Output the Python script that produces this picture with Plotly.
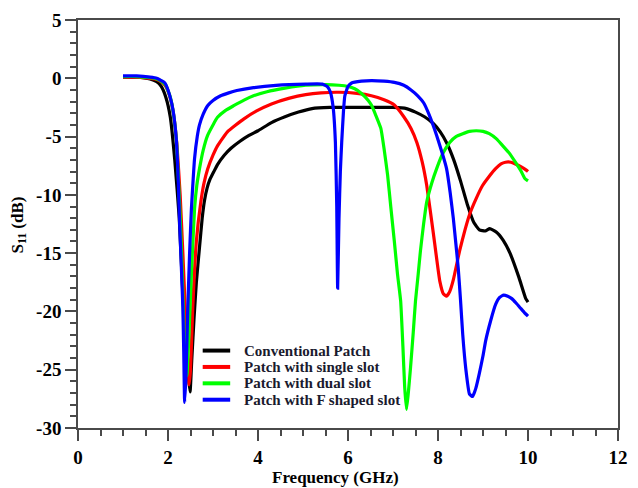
import plotly.graph_objects as go

# ---------------- data ----------------
freq_conv = [1.0, 1.3, 1.6, 1.75, 1.85, 1.95, 2.05, 2.15, 2.25, 2.33, 2.40, 2.45, 2.49, 2.53, 2.58,
             2.63, 2.70, 2.76, 2.81, 2.87, 2.93, 3.02, 3.10, 3.25, 3.40, 3.60, 3.80, 4.0, 4.3, 4.6,
             4.9, 5.2, 5.6, 6.0, 6.5, 7.0, 7.3, 7.5, 7.7, 7.9, 8.05, 8.2, 8.35, 8.5, 8.65, 8.8,
             8.92, 9.05, 9.15, 9.3, 9.45, 9.6, 9.8, 9.95, 10.0]
s11_conv = [0.1, 0.1, -0.05, -0.3, -0.7, -1.6, -3.3, -7.0, -12.0, -18.5, -23.0, -25.5, -26.9, -24.0, -20.5,
            -17.5, -14.5, -12.0, -10.5, -9.4, -8.7, -8.0, -7.4, -6.6, -6.0, -5.4, -4.9, -4.5, -3.8, -3.3,
            -2.9, -2.6, -2.5, -2.5, -2.5, -2.5, -2.6, -2.9, -3.3, -3.9, -4.6, -5.6, -7.0, -8.8, -10.8, -12.4,
            -13.0, -13.1, -12.9, -13.2, -13.9, -15.0, -17.1, -18.9, -19.2]

freq_single = [1.0, 1.3, 1.6, 1.75, 1.85, 1.95, 2.05, 2.12, 2.2, 2.27, 2.33, 2.38, 2.43, 2.47, 2.50,
               2.55, 2.63, 2.73, 2.80, 2.88, 3.0, 3.10, 3.32, 3.68, 3.97, 4.3, 4.7, 5.06, 5.4, 5.8,
               6.2, 6.52, 6.8, 7.03, 7.24, 7.4, 7.53, 7.65, 7.75, 7.90, 8.04, 8.12, 8.19, 8.26, 8.34,
               8.48, 8.60, 8.70, 8.85, 8.99, 9.14, 9.28, 9.4, 9.50, 9.62, 9.72, 9.85, 9.97, 10.0]
s11_single = [0.1, 0.1, 0.0, -0.1, -0.3, -0.7, -1.7, -3.0, -5.8, -10.0, -15.0, -19.5, -23.5, -26.3, -25.0,
              -19.7, -14.0, -10.6, -9.0, -7.8, -6.6, -5.8, -4.6, -3.5, -2.8, -2.2, -1.7, -1.4, -1.25, -1.2,
              -1.3, -1.5, -1.85, -2.3, -3.3, -4.3, -5.5, -7.2, -9.2, -13.4, -17.4, -18.5, -18.7, -18.3, -17.3,
              -14.8, -13.0, -11.7, -10.3, -9.2, -8.4, -7.75, -7.35, -7.2, -7.2, -7.35, -7.6, -7.9, -8.0]

freq_dual = [1.0, 1.3, 1.6, 1.75, 1.85, 1.95, 2.05, 2.12, 2.19, 2.26, 2.31, 2.35, 2.39, 2.42, 2.46,
             2.52, 2.59, 2.64, 2.70, 2.78, 2.88, 3.0, 3.10, 3.28, 3.46, 3.7, 3.9, 4.2, 4.6, 5.06,
             5.5, 5.8, 6.0, 6.15, 6.3, 6.45, 6.52, 6.62, 6.73, 6.8, 6.88, 6.95, 7.03, 7.10, 7.17,
             7.22, 7.26, 7.30, 7.34, 7.39, 7.45, 7.50, 7.56, 7.61, 7.68, 7.75, 7.86, 7.97, 8.1, 8.26,
             8.4, 8.55, 8.7, 8.85, 9.0, 9.14, 9.3, 9.43, 9.58, 9.72, 9.85, 9.93, 10.0]
s11_dual = [0.15, 0.15, 0.05, -0.05, -0.25, -0.6, -1.6, -3.0, -5.5, -11.0, -16.0, -21.0, -24.5, -25.5, -22.5,
            -16.8, -11.2, -9.2, -7.75, -6.2, -4.9, -4.0, -3.35, -2.75, -2.35, -1.85, -1.5, -1.15, -0.85, -0.6,
            -0.55, -0.6, -0.7, -0.9, -1.3, -1.9, -2.3, -3.2, -4.3, -6.0, -8.3, -11.0, -14.0, -16.8, -19.1,
            -23.0, -26.5, -28.4, -27.0, -24.8, -21.8, -19.1, -16.8, -14.8, -12.5, -10.6, -9.0, -7.75, -6.5, -5.5,
            -5.0, -4.75, -4.55, -4.5, -4.55, -4.75, -5.2, -5.75, -6.4, -7.2, -8.0, -8.6, -8.8]

freq_f = [1.0, 1.3, 1.6, 1.75, 1.85, 1.93, 2.0, 2.08, 2.14, 2.19, 2.23, 2.26, 2.30, 2.33, 2.35,
          2.37, 2.40, 2.44, 2.48, 2.52, 2.56, 2.59, 2.65, 2.70, 2.78, 2.88, 3.0, 3.17, 3.35, 3.53,
          3.9, 4.4, 5.06, 5.43, 5.55, 5.61, 5.67, 5.72, 5.75, 5.77, 5.80, 5.83, 5.86, 5.90, 5.93,
          6.0, 6.08, 6.3, 6.52, 6.8, 7.03, 7.24, 7.4, 7.55, 7.68, 7.8, 7.97, 8.1, 8.19, 8.27,
          8.34, 8.40, 8.45, 8.50, 8.55, 8.62, 8.70, 8.77, 8.84, 8.92, 9.0, 9.06, 9.17, 9.28, 9.37,
          9.46, 9.55, 9.64, 9.74, 9.83, 9.92, 10.0]
s11_f = [0.2, 0.2, 0.1, 0.0, -0.2, -0.4, -1.0, -2.1, -3.5, -5.5, -9.0, -12.6, -16.5, -19.7, -23.5,
         -27.8, -25.5, -19.7, -15.0, -11.2, -8.6, -6.9, -5.0, -4.0, -3.1, -2.35, -1.9, -1.5, -1.25, -1.05,
         -0.8, -0.6, -0.5, -0.5, -0.75, -1.2, -2.5, -5.5, -11.0, -18.0, -12.0, -8.0, -5.5, -2.8, -1.5,
         -0.7, -0.4, -0.25, -0.2, -0.25, -0.35, -0.6, -1.0, -1.5, -2.1, -3.1, -4.9, -6.5, -7.75, -9.8,
         -12.0, -14.3, -16.3, -19.0, -22.0, -25.0, -27.1, -27.3, -26.6, -25.3, -23.8, -22.5, -20.8, -19.4, -18.8,
         -18.6, -18.7, -18.9, -19.3, -19.7, -20.1, -20.4]

series_names = ["Conventional Patch", "Patch with single slot",
                "Patch with dual slot", "Patch with F shaped slot"]
series_colors = ["#000000", "#ff0000", "#00ff00", "#0000ff"]
series_x = [freq_conv, freq_single, freq_dual, freq_f]
series_y = [s11_conv, s11_single, s11_dual, s11_f]

x_ticks = [0, 2, 4, 6, 8, 10, 12]
y_ticks = [5, 0, -5, -10, -15, -20, -25, -30]

SERIF = "Liberation Serif, Times New Roman, serif"

fig = go.Figure()
for name, col, xs, ys in zip(series_names, series_colors, series_x, series_y):
    fig.add_trace(go.Scatter(x=xs, y=ys, mode="lines", name=name,
                             line=dict(color=col, width=3.2, shape="spline", smoothing=0.4),
                             showlegend=False))

# plot-area geometry in px (for paper conversions)
L, R, T, B = 78, 628, 17, 428
W, H = R - L, B - T


def px_x(px):
    return (px - L) / W


def px_y(py):
    return (B - py) / H


# custom legend
legend_rows = [350, 366.5, 383, 399.5]
for name, col, py in zip(series_names, series_colors, legend_rows):
    fig.add_shape(type="line", xref="paper", yref="paper",
                  x0=px_x(205), x1=px_x(233), y0=px_y(py), y1=px_y(py),
                  line=dict(color=col, width=4))
    fig.add_annotation(xref="paper", yref="paper", x=px_x(245), y=px_y(py),
                       text="<b>%s</b>" % name, showarrow=False, xanchor="left", yanchor="middle",
                       font=dict(family=SERIF, size=15, color="#1a1a2e"))

# axis titles
fig.add_annotation(xref="paper", yref="paper", x=px_x(340), y=px_y(478),
                   text="<b>Frequency (GHz)</b>", showarrow=False, xanchor="center", yanchor="middle",
                   font=dict(family=SERIF, size=17, color="#000000"))
fig.add_annotation(xref="paper", yref="paper", x=px_x(18), y=px_y(224),
                   text="<b>S<sub>11</sub> (dB)</b>", showarrow=False, textangle=-90,
                   xanchor="center", yanchor="middle",
                   font=dict(family=SERIF, size=17, color="#000000"))

axis_common = dict(showline=True, linecolor="#4a4a4a", linewidth=1.5, mirror=True,
                   ticks="outside", ticklen=11, tickwidth=1.5, tickcolor="#4a4a4a",
                   showgrid=False, zeroline=False,
                   tickfont=dict(family=SERIF, size=19, color="#000000"))

fig.update_xaxes(range=[0, 12], tickvals=x_ticks, ticktext=["<b>%d</b>" % v for v in x_ticks],
                 minor=dict(dtick=0.5, ticklen=6, tickwidth=1.5, tickcolor="#4a4a4a", ticks="outside"),
                 **axis_common)
fig.update_yaxes(range=[-30, 5], tickvals=y_ticks, ticktext=["<b>%d</b>" % v for v in y_ticks],
                 minor=dict(dtick=1, ticklen=6, tickwidth=1.5, tickcolor="#4a4a4a", ticks="outside"),
                 **axis_common)

fig.update_layout(width=638, height=488, margin=dict(l=L, r=638 - R, t=T, b=488 - B),
                  plot_bgcolor="white", paper_bgcolor="white", showlegend=False)

fig.write_html("out.html")
